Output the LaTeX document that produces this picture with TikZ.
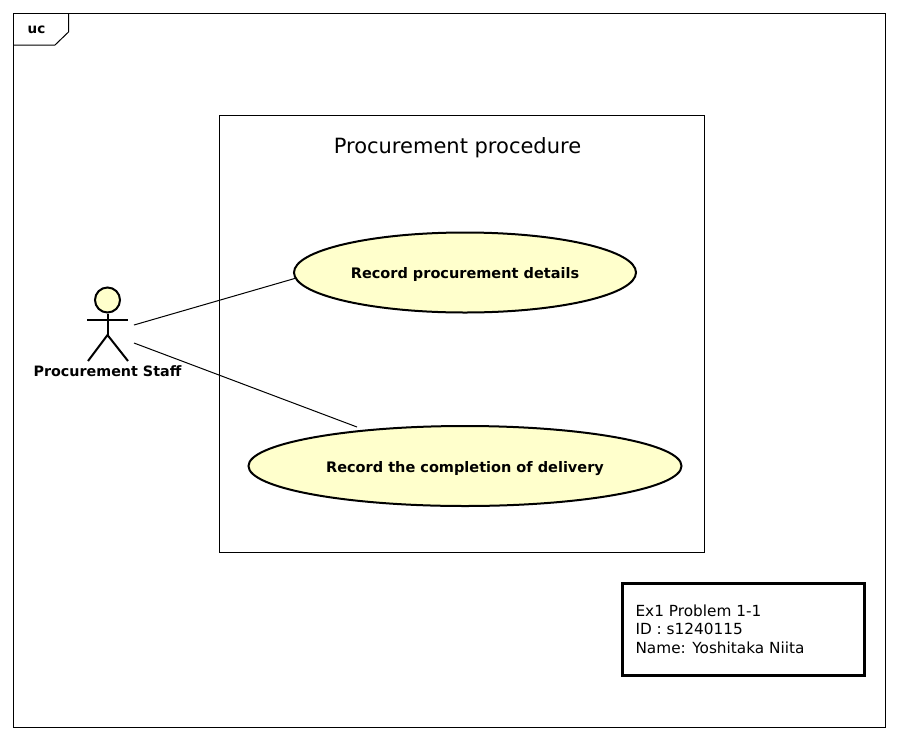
\documentclass[tikz,border=0pt]{standalone}
\usepackage{fontspec}
\setmainfont{DejaVu Sans}
\usetikzlibrary{positioning,shapes.geometric}
\definecolor{ucfill}{HTML}{FFFFCC}
\tikzstyle{usecase}=[ellipse,draw,fill=ucfill,line width=2pt,inner sep=0pt,minimum height=80pt,font=\bfseries\fontsize{14.5}{17}\selectfont]
\tikzstyle{limb}=[line width=2pt]
\tikzstyle{assoc}=[line width=1pt]
\tikzstyle{framebox}=[draw,line width=1pt,fill=white]
\begin{document}
\begin{tikzpicture}[x=1pt,y=-1pt]
  \useasboundingbox (0,0) rectangle (898,740);
  % outer frame
  \draw[framebox] (13.5,13.5) rectangle (885,727);
  \draw[line width=1pt] (13.5,45) -- (55,45) -- (68.5,32) -- (68.5,13.5);
  \node[font=\bfseries\fontsize{13.5}{16}\selectfont] (uc) at (36.5,30) {uc};
  % subject
  \node[draw,line width=1pt,minimum width=485pt,minimum height=436.5pt,inner sep=0pt] (subject) at (462,333.75) {};
  \node[font=\fontsize{21}{25}\selectfont] (title) at (457.5,147.5) {Procurement procedure};
  % use cases
  \node[usecase,minimum width=342pt,text height=11pt,text depth=0pt] (details) at (465,272.5) {Record procurement details};
  \node[usecase,minimum width=433pt,text height=12pt,text depth=0pt] (delivery) at (465,466) {Record the completion of delivery};
  % actor
  \node[circle,draw,fill=ucfill,line width=2pt,inner sep=0pt,minimum size=25pt] (head) at (107.5,300) {};
  \coordinate (hip) at (107.5,335);
  \coordinate (armL) at (87,320);
  \coordinate (armR) at (128,320);
  \coordinate (footL) at (88,361);
  \coordinate (footR) at (128,361);
  \draw[limb] (head) -- (hip);
  \draw[limb] (armL) -- (armR);
  \draw[limb] (footL) -- (hip) -- (footR);
  \node[font=\bfseries\fontsize{14.3}{17}\selectfont] (staff) at (107.5,371) {Procurement Staff};
  % associations
  \coordinate (staffA) at (134,325);
  \coordinate (staffB) at (134,343);
  \coordinate (deliveryEnd) at (357,427);
  \draw[assoc] (staffA) -- (details.182);
  \draw[assoc] (staffB) -- (deliveryEnd);
  % note
  \node[draw,line width=3pt,fill=white,minimum width=242pt,minimum height=92pt,inner sep=0pt] (note) at (743.5,629.5) {};
  \node[align=left,anchor=west,font=\fontsize{15.3}{18.5}\selectfont] (notetext) at (632,629) {Ex1 Problem 1-1\\ID : s1240115\\Name: Yoshitaka Niita};
\end{tikzpicture}
\end{document}
